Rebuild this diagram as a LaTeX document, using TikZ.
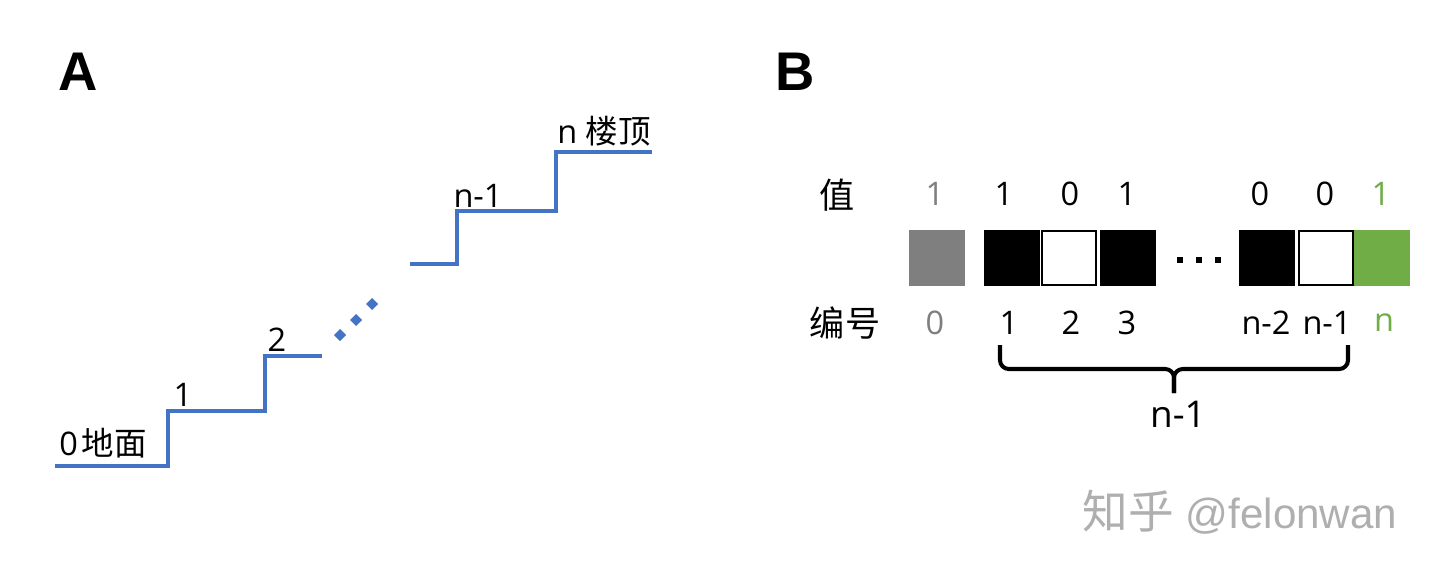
\documentclass[tikz,border=0pt]{standalone}
\usepackage{fontspec}
\setmainfont{Open Sans}
\newfontfamily\cjk{Noto Sans CJK SC}
\newfontfamily\panelfont{Liberation Sans}
\newfontfamily\markfont{Liberation Sans}
\usetikzlibrary{positioning}
\definecolor{stairblue}{RGB}{68,114,196}
\definecolor{idxgray}{RGB}{127,127,127}
\definecolor{topgreen}{RGB}{112,173,71}
\definecolor{markgray}{RGB}{175,175,175}

\begin{document}
\begin{tikzpicture}[x=0.02cm,y=-0.02cm]
\tikzstyle{lbl}=[inner sep=0pt,font=\fontsize{18.5}{20}\selectfont]
\tikzstyle{zh}=[inner sep=0pt,font=\fontsize{20}{22}\selectfont\cjk]
\tikzstyle{panel}=[inner sep=0pt,font=\fontsize{31}{33}\selectfont\panelfont\bfseries]
\tikzstyle{stair}=[draw=stairblue,line width=2pt]
\tikzstyle{cell}=[minimum width=1.07cm,minimum height=1.07cm,inner sep=0pt,line width=0.9pt,draw=black]
\useasboundingbox (0,0) rectangle (1440,568);
\fill[white] (0,0) rectangle (1440,568);
% panel labels
\node[panel] (pa) at (78,72) {A};
\node[panel] (pb) at (795,72) {B};
% A: stairs
\draw[stair] (55,466) -- (168,466) -- (168,411) -- (265,411) -- (265,356) -- (322,356);
\draw[stair] (410,264) -- (457,264) -- (457,211) -- (556,211) -- (556,152) -- (652,152);
\foreach \x/\y in {340/335,356/320,372/304}
  \fill[stairblue] (\x,\y) +(0,-6) -- +(6,0) -- +(0,6) -- +(-6,0) -- cycle;
\node[lbl] (s0) at (103,443) {0\hspace{2pt}{\cjk 地面}};
\node[lbl] (s1) at (183,395) {1};
\node[lbl] (s2) at (277,340) {2};
\node[lbl] (sn1) at (478,196) {n-1};
\node[lbl] (sn) at (604,131) {n {\cjk 楼顶}};
% B: row titles
\node[zh] (val) at (837,195) {值};
\node[zh] (idx) at (845,323) {编号};
% B: cells
\node[cell,fill=idxgray,draw=idxgray] (c0) at (937,258) {};
\node[cell,fill=black] (c1) at (1012,258) {};
\node[cell,fill=white] (c2) at (1069,258) {};
\node[cell,fill=black] (c3) at (1128,258) {};
\node[cell,fill=black] (c4) at (1267,258) {};
\node[cell,fill=white] (c5) at (1326,258) {};
\node[cell,fill=topgreen,draw=topgreen] (c6) at (1382,258) {};
\foreach \x in {1180,1199,1218}
  \fill (\x,260) +(-2.8,-2.8) rectangle +(2.8,2.8);
% B: values
\node[lbl,text=idxgray] (v0) at (935,194) {1};
\node[lbl] (v1) at (1004,194) {1};
\node[lbl] (v2) at (1070,194) {0};
\node[lbl] (v3) at (1127,194) {1};
\node[lbl] (v4) at (1260,194) {0};
\node[lbl] (v5) at (1325,194) {0};
\node[lbl,text=topgreen] (v6) at (1381,194) {1};
% B: numbering
\node[lbl,text=idxgray] (i0) at (935,323) {0};
\node[lbl] (i1) at (1009,323) {1};
\node[lbl] (i2) at (1071,323) {2};
\node[lbl] (i3) at (1127,323) {3};
\node[lbl] (i4) at (1266,323) {n-2};
\node[lbl] (i5) at (1327,323) {n-1};
\node[lbl,text=topgreen] (i6) at (1384,323) {n};
% B: brace
\coordinate (bl) at (1000,345);
\coordinate (br) at (1348,345);
\coordinate (bm) at (1174,369);
\coordinate (bt) at (1174,393);
\draw[line width=2.3pt,rounded corners=5pt] (bl) |- (bm) -- (bt);
\draw[line width=2.3pt,rounded corners=5pt] (br) |- (bm) -- (bt);
\node[lbl,font=\fontsize{21}{24}\selectfont] (cnt) at (1178,414) {n-1};
% watermark
\node[inner sep=0pt,text=markgray,font=\fontsize{24}{28}\selectfont\markfont] (wm) at (1240,512) {{\cjk\fontsize{26}{28}\selectfont 知乎} @felonwan};
\end{tikzpicture}
\end{document}
